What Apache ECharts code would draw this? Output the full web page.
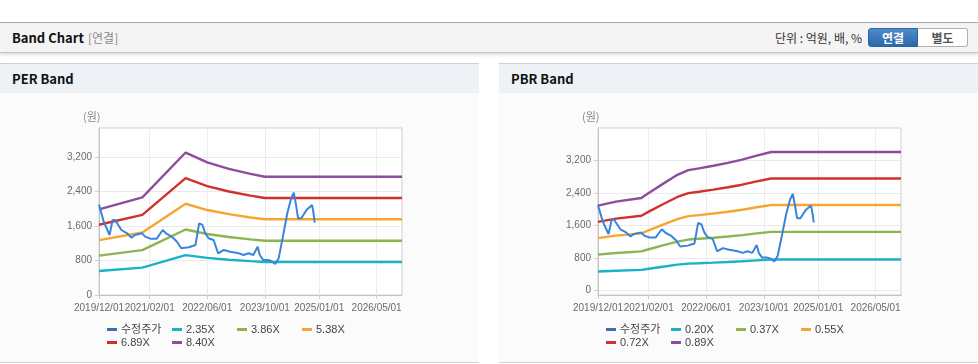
<!DOCTYPE html>
<html><head><meta charset="utf-8">
<script src="https://cdn.jsdelivr.net/npm/echarts@6/dist/echarts.min.js"></script>
<style>
html,body{margin:0;padding:0;width:978px;height:364px;overflow:hidden;background:#fff;font-family:"Noto Sans CJK KR","Liberation Sans",sans-serif;}
.topline{position:absolute;left:0;top:22px;width:978px;height:1px;background:#ababab;}
.hdr{position:absolute;left:0;top:23px;width:978px;height:29px;background:#f4f4f4;border-bottom:1px solid #c4c4c4;box-shadow:0 2px 3px rgba(0,0,0,0.13);}
.hdr .t{position:absolute;left:12px;top:5px;font-size:13px;font-weight:bold;color:#111;line-height:20px;}
.hdr .s{position:absolute;left:88px;top:5px;font-size:12px;color:#8a8a8a;line-height:20px;}
.hdr .u{position:absolute;right:116px;top:5px;font-size:12px;color:#333;line-height:20px;white-space:pre;}
.btn{position:absolute;top:5px;height:19px;width:50px;font-size:12px;font-weight:bold;text-align:center;line-height:18px;box-sizing:border-box;}
.b1{left:868px;background:linear-gradient(#4d8bcb,#2b68a9);color:#fff;border:1px solid #2a64a0;border-radius:3px 0 0 3px;}
.b2{left:918px;background:#fff;color:#555;border:1px solid #b0b0b0;border-left:none;border-radius:0 3px 3px 0;}
.panel{position:absolute;top:63px;height:298px;background:#fbfbfb;border-top:1px solid #d0d0d0;border-bottom:1px solid #d4d4d4;}
.ph{height:29px;background:#eef2f7;position:relative;}
.ph span{position:absolute;left:12px;top:5px;font-size:13px;font-weight:bold;color:#111;line-height:20px;}
#chart{position:absolute;left:0;top:0;width:978px;height:364px;}
</style></head>
<body>
<div class="topline"></div>
<div class="hdr"><div class="t">Band Chart</div><div class="s">[연결]</div><div class="u">단위 : 억원, 배, %</div>
<div class="btn b1">연결</div><div class="btn b2">별도</div></div>
<div class="panel" style="left:0;width:479px;"><div class="ph"><span>PER Band</span></div></div>
<div class="panel" style="left:499px;width:479px;"><div class="ph"><span>PBR Band</span></div></div>
<div id="chart"></div>
<script>
// ---- data ----
const xTickLabels = ['2019/12/01','2021/02/01','2022/06/01','2023/10/01','2025/01/01','2026/05/01'];
const yTickValues = [0, 800, 1600, 2400, 3200];

const priceDates = ['2019-12-01','2020-01-10','2020-02-28','2020-03-25','2020-04-15','2020-06-07','2020-07-25','2020-09-01','2020-09-28','2020-11-28','2020-12-25','2021-02-07','2021-04-01','2021-05-22','2021-06-25','2021-08-07','2021-09-19','2021-10-25','2021-12-28','2022-02-22','2022-03-25','2022-04-22','2022-05-16','2022-06-13','2022-07-25','2022-09-01','2022-10-19','2022-12-13','2023-02-22','2023-04-04','2023-05-16','2023-06-25','2023-08-01','2023-08-19','2023-09-16','2023-10-28','2023-11-19','2023-12-28','2024-01-25','2024-03-01','2024-04-07','2024-05-10','2024-06-01','2024-06-22','2024-07-07','2024-08-04','2024-09-16','2024-11-01','2024-11-10','2024-11-25'];
const priceValues = [2100,1704,1394,1743,1743,1510,1433,1332,1394,1433,1355,1309,1309,1510,1418,1355,1239,1085,1108,1162,1666,1627,1433,1317,1278,969,1046,1007,969,930,969,930,1123,930,813,813,797,720,852,1355,1898,2247,2378,2052,1782,1782,1975,2092,1975,1681];

const perNames = ['2.35X','3.86X','5.38X','6.89X','8.40X'];
const perDates = ['2019-12-01','2020-12-01','2021-12-01','2022-06-01','2022-12-01','2023-06-01','2023-10-01','2026-12-01'];
const per235 = [557, 635, 926, 862, 820, 787, 768, 768];
const per386 = [915, 1042, 1521, 1417, 1347, 1293, 1262, 1262];
const per538 = [1275, 1453, 2120, 1974, 1878, 1802, 1759, 1759];
const per689 = [1633, 1860, 2715, 2529, 2405, 2308, 2253, 2253];
const per840 = [1991, 2268, 3310, 3083, 2932, 2814, 2747, 2747];

const pbrNames = ['0.20X','0.37X','0.55X','0.72X','0.89X'];
const pbrDates = ['2019-12-01','2020-05-01','2020-12-01','2021-02-01','2021-06-01','2021-10-01','2022-01-01','2022-04-01','2022-08-01','2022-12-01','2023-04-01','2023-08-01','2023-12-01','2026-12-01'];
const pbr020 = [470, 492, 512, 540, 590, 640, 666, 676, 690, 706, 724, 746, 766, 766];
const pbr037 = [887, 928, 966, 1019, 1113, 1208, 1257, 1276, 1302, 1332, 1366, 1408, 1445, 1445];
const pbr055 = [1293, 1353, 1408, 1485, 1623, 1760, 1832, 1859, 1898, 1942, 1991, 2052, 2107, 2107];
const pbr072 = [1692, 1771, 1843, 1944, 2124, 2304, 2398, 2434, 2484, 2542, 2606, 2686, 2758, 2758];
const pbr089 = [2092, 2189, 2278, 2403, 2626, 2848, 2964, 3008, 3071, 3142, 3222, 3320, 3409, 3409];

// ---- helpers ----
const priceColor = '#3a84da';
const bandColors = ['#1bb2c6', '#8db44f', '#f5a631', '#d3302b', '#8e4d9c'];
function pad(n){return (n<10?'0':'')+n;}
function toTs(s){const p=s.split(/[-\/]/).map(Number);return new Date(p[0],p[1]-1,p[2]).getTime();}
function fmtDate(v){const d=new Date(v);return d.getFullYear()+'/'+pad(d.getMonth()+1)+'/'+pad(d.getDate());}
function fmtNum(v){return String(v).replace(/\B(?=(\d{3})+(?!\d))/g, ',');}
function pairs(ds, vs){return ds.map((d,i)=>[toTs(d), vs[i]]);}
const xTicks = xTickLabels.map(toTs);

const chart = echarts.init(document.getElementById('chart'), null, {renderer:'canvas'});

function xAxisCfg(idx){
  return {type:'value', gridIndex:idx, min:toTs('2019-12-01'), max:toTs('2026-12-01'),
    axisLine:{show:true, onZero:false, lineStyle:{color:'#c4c4c4'}},
    axisTick:{show:true, length:4, customValues:xTicks, lineStyle:{color:'#cfcfcf'}},
    axisLabel:{customValues:xTicks, formatter:fmtDate, color:'#6a6a6a', fontSize:10, margin:8, fontFamily:'Liberation Sans', showMinLabel:true, showMaxLabel:true},
    splitLine:{show:true, lineStyle:{color:'#ececec'}}};
}
function yAxisCfg(idx, min, max){
  return {type:'value', gridIndex:idx, min:min, max:max,
    axisLine:{show:true, lineStyle:{color:'#c4c4c4'}},
    axisTick:{show:true, length:4, customValues:yTickValues, lineStyle:{color:'#cfcfcf'}},
    axisLabel:{customValues:yTickValues, formatter:fmtNum, color:'#6a6a6a', fontSize:10, margin:7, fontFamily:'Liberation Sans'},
    splitLine:{show:true, lineStyle:{color:'#e9e9e9'}}};
}
function lineS(name, data, color, xi, z, w){
  return {type:'line', name:name, data:data, xAxisIndex:xi, yAxisIndex:xi, showSymbol:false, symbol:'none',
    lineStyle:{width:w, color:color}, itemStyle:{color:color}, z:z, animation:false};
}
const series = [];
const perBands = [per235, per386, per538, per689, per840];
const pbrBands = [pbr020, pbr037, pbr055, pbr072, pbr089];
perBands.forEach((b,i)=>series.push(lineS(perNames[i], pairs(perDates,b), bandColors[i], 0, 2, 2.4)));
series.push(lineS('수정주가', pairs(priceDates, priceValues), priceColor, 0, 3, 2));
pbrBands.forEach((b,i)=>series.push(lineS(pbrNames[i], pairs(pbrDates,b), bandColors[i], 1, 2, 2.4)));
series.push(lineS('수정주가', pairs(priceDates, priceValues), priceColor, 1, 3, 2));

function legendItem(left, top, name){
  const d = {name:name, icon:'rect'};
  if (name === '수정주가') d.itemStyle = {color:'#3d6fb5'};
  return {left:left, top:top, padding:0, itemGap:0, itemWidth:10, itemHeight:3, icon:'rect', selectedMode:false,
    textStyle:{fontSize:11, color:'#444', padding:[0,0,0,-1], fontFamily:'Liberation Sans, Noto Sans CJK KR'},
    data:[d]};
}
const legends = [];
function addLegends(x0, names){
  names.forEach((n,i)=>{
    const col = i % 4, row = Math.floor(i / 4);
    legends.push(legendItem(x0 + col*65, 324 + row*13, n));
  });
}
addLegends(107, ['수정주가'].concat(perNames));
addLegends(606, ['수정주가'].concat(pbrNames));

chart.setOption({
  animation:false,
  grid:[
    {left:99, top:128, width:303, height:167, show:true, borderColor:'#cfcfcf', borderWidth:1, backgroundColor:'#ffffff'},
    {left:598, top:128, width:303, height:167, show:true, borderColor:'#cfcfcf', borderWidth:1, backgroundColor:'#ffffff'}
  ],
  xAxis:[xAxisCfg(0), xAxisCfg(1)],
  yAxis:[yAxisCfg(0, 0, 3880), yAxisCfg(1, -106, 4000)],
  legend:legends,
  graphic:[
    {type:'text', left:83, top:111, style:{text:'(원)', fontSize:11, fill:'#888', fontFamily:'Noto Sans CJK KR'}},
    {type:'text', left:582, top:111, style:{text:'(원)', fontSize:11, fill:'#888', fontFamily:'Noto Sans CJK KR'}}
  ],
  series:series
});
</script>
</body></html>
